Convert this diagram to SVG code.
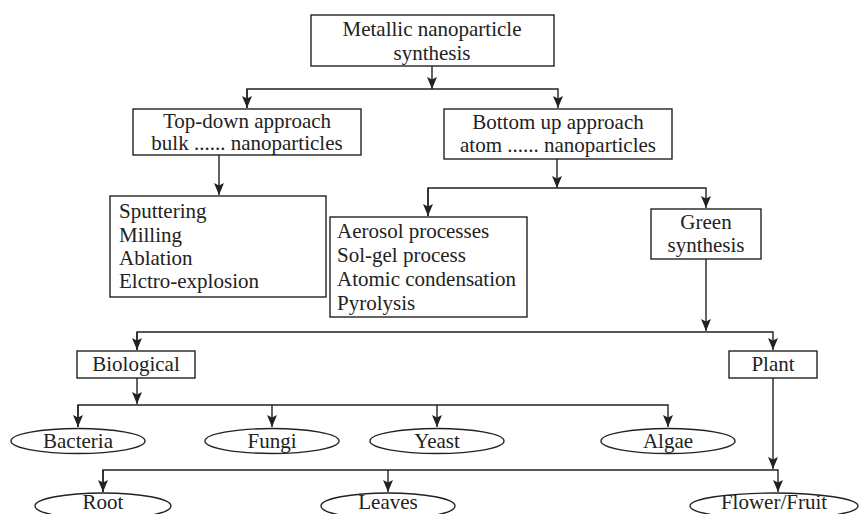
<svg xmlns="http://www.w3.org/2000/svg" width="859" height="514" viewBox="0 0 859 514">
<style>
.box{fill:#fff;stroke:#222;stroke-width:1.4}
.t{font-family:"Liberation Serif","Times New Roman",serif;font-size:21px;fill:#222}
.c{text-anchor:middle}
.ln{fill:none;stroke:#222;stroke-width:1.4}
</style>
<defs>
<marker id="ah" markerWidth="13" markerHeight="11" refX="12" refY="5" orient="auto" markerUnits="userSpaceOnUse">
<path d="M0,0 L12,5 L0,10 L2.5,5 z" fill="#222"/>
</marker>
</defs>
<rect width="859" height="514" fill="#fff"/>
<g id="connectors">
<line class="ln" x1="432" y1="66" x2="432" y2="89" marker-end="url(#ah)"/>
<polyline class="ln" points="247,108 247,89 558,89 558,108" marker-end="url(#ah)"/>
<line class="ln" x1="247" y1="89" x2="247" y2="108" marker-end="url(#ah)"/>
<line class="ln" x1="219" y1="155" x2="219" y2="195" marker-end="url(#ah)"/>
<line class="ln" x1="557" y1="159" x2="557" y2="188" marker-end="url(#ah)"/>
<polyline class="ln" points="428,216 428,188 706,188 706,208" marker-end="url(#ah)"/>
<line class="ln" x1="428" y1="188" x2="428" y2="216" marker-end="url(#ah)"/>
<line class="ln" x1="706" y1="259" x2="706" y2="331" marker-end="url(#ah)"/>
<polyline class="ln" points="137,350 137,332 773,332 773,350" marker-end="url(#ah)"/>
<line class="ln" x1="137" y1="332" x2="137" y2="350" marker-end="url(#ah)"/>
<line class="ln" x1="137" y1="378" x2="137" y2="404" marker-end="url(#ah)"/>
<polyline class="ln" points="78,427 78,405 668,405 668,427" marker-end="url(#ah)"/>
<line class="ln" x1="78" y1="405" x2="78" y2="427" marker-end="url(#ah)"/>
<line class="ln" x1="272" y1="405" x2="272" y2="427" marker-end="url(#ah)"/>
<line class="ln" x1="437" y1="405" x2="437" y2="427" marker-end="url(#ah)"/>
<line class="ln" x1="773" y1="378" x2="773" y2="469" marker-end="url(#ah)"/>
<polyline class="ln" points="103,492 103,470 778,470 778,492" marker-end="url(#ah)"/>
<line class="ln" x1="103" y1="470" x2="103" y2="492" marker-end="url(#ah)"/>
<line class="ln" x1="388" y1="470" x2="388" y2="492" marker-end="url(#ah)"/>
</g>
<g id="metallic">
<rect class="box" x="311" y="15" width="243" height="51"/>
<text class="t c" x="432" y="36">Metallic nanoparticle</text>
<text class="t c" x="432" y="60">synthesis</text>
</g>
<g id="topdown">
<rect class="box" x="133" y="109" width="228" height="46"/>
<text class="t c" x="247" y="128">Top-down approach</text>
<text class="t c" x="247" y="150">bulk ...... nanoparticles</text>
</g>
<g id="bottomup">
<rect class="box" x="444" y="109" width="228" height="50"/>
<text class="t c" x="558" y="129">Bottom up approach</text>
<text class="t c" x="558" y="152">atom ...... nanoparticles</text>
</g>
<g id="topdown-list">
<rect class="box" x="110" y="196" width="216" height="101"/>
<text class="t" x="119" y="218">Sputtering</text>
<text class="t" x="119" y="241.5">Milling</text>
<text class="t" x="119" y="265">Ablation</text>
<text class="t" x="119" y="288">Elctro-explosion</text>
</g>
<g id="bottomup-list">
<rect class="box" x="330" y="217" width="197" height="100"/>
<text class="t" x="337" y="238">Aerosol processes</text>
<text class="t" x="337" y="262">Sol-gel process</text>
<text class="t" x="337" y="286">Atomic condensation</text>
<text class="t" x="337" y="310">Pyrolysis</text>
</g>
<g id="green">
<rect class="box" x="651" y="209" width="110" height="50"/>
<text class="t c" x="706" y="229">Green</text>
<text class="t c" x="706" y="252">synthesis</text>
</g>
<g id="biological">
<rect class="box" x="77" y="351" width="118" height="27"/>
<text class="t c" x="136" y="371">Biological</text>
</g>
<g id="plant">
<rect class="box" x="729" y="351" width="88" height="27"/>
<text class="t c" x="773" y="371">Plant</text>
</g>
<g id="bacteria">
<ellipse class="box" cx="78" cy="441" rx="67" ry="12.5"/>
<text class="t c" x="78" y="448">Bacteria</text>
</g>
<g id="fungi">
<ellipse class="box" cx="272" cy="441" rx="67" ry="12.5"/>
<text class="t c" x="272" y="448">Fungi</text>
</g>
<g id="yeast">
<ellipse class="box" cx="437" cy="441" rx="67" ry="12.5"/>
<text class="t c" x="437" y="448">Yeast</text>
</g>
<g id="algae">
<ellipse class="box" cx="668" cy="441" rx="67" ry="12.5"/>
<text class="t c" x="668" y="448">Algae</text>
</g>
<g id="root">
<ellipse class="box" cx="103" cy="506" rx="68" ry="13"/>
<text class="t c" x="103" y="509">Root</text>
</g>
<g id="leaves">
<ellipse class="box" cx="388" cy="506" rx="67" ry="13"/>
<text class="t c" x="388" y="509">Leaves</text>
</g>
<g id="flower">
<ellipse class="box" cx="774" cy="506" rx="84" ry="13"/>
<text class="t c" x="774" y="509">Flower/Fruit</text>
</g>
</svg>
